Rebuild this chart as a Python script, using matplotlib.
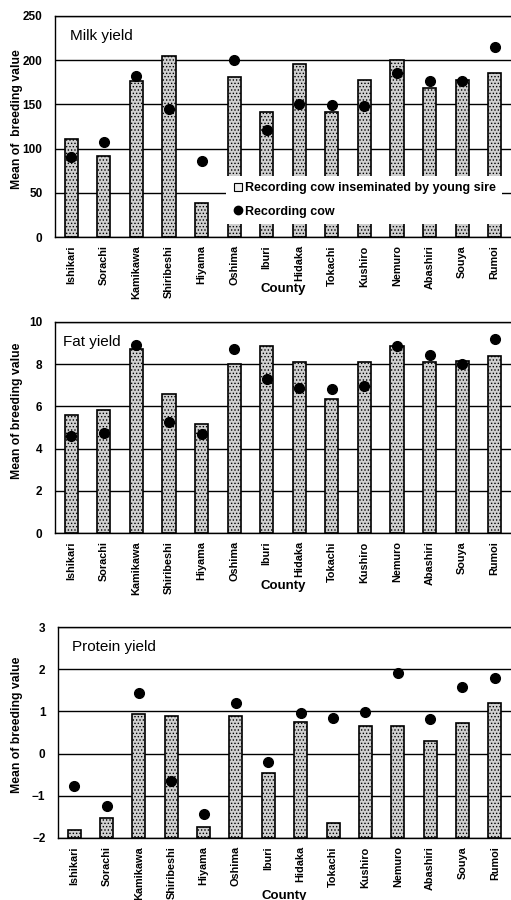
import matplotlib
matplotlib.use("Agg")
import matplotlib.pyplot as plt
from matplotlib.lines import Line2D
import numpy as np

plt.rcParams['font.family'] = ['Liberation Sans', 'DejaVu Sans']
plt.rcParams['hatch.color'] = '#7a7a7a'
plt.rcParams['hatch.linewidth'] = 0.6

counties = ["Ishikari", "Sorachi", "Kamikawa", "Shiribeshi", "Hiyama", "Oshima", "Iburi",
            "Hidaka", "Tokachi", "Kushiro", "Nemuro", "Abashiri", "Souya", "Rumoi"]

milk_young = [111, 92, 176, 205, 38, 181, 141, 196, 141, 178, 200, 169, 178, 186]
milk_cow = [91, 107, 182, 145, 86, 200, 121, 151, 149, 148, 185, 177, 177, 215]

fat_young = [5.57, 5.81, 8.70, 6.60, 5.17, 8.01, 8.88, 8.12, 6.36, 8.09, 8.86, 8.09, 8.16, 8.39]
fat_cow = [4.59, 4.73, 8.91, 5.28, 4.70, 8.70, 7.28, 6.85, 6.84, 6.99, 8.86, 8.43, 8.00, 9.19]

prot_young = [-1.80, -1.53, 0.94, 0.89, -1.75, 0.89, -0.47, 0.74, -1.64, 0.65, 0.66, 0.30, 0.73, 1.20]
prot_cow = [-0.77, -1.25, 1.44, -0.65, -1.43, 1.21, -0.19, 0.97, 0.85, 0.98, 1.91, 0.83, 1.57, 1.78]

panels = [
    dict(young=milk_young, cow=milk_cow, ylim=(0, 250), ticks=[0, 50, 100, 150, 200, 250],
         title="Milk yield", ylabel="Mean of  breeding value",
         rect=[55/511, 1-237/900, 1-55/511, 221/900], title_pos=(0.033, 0.91), xlab_y=-0.21,
         ylab=(-0.07, 0.534)),
    dict(young=fat_young, cow=fat_cow, ylim=(0, 10), ticks=[0, 2, 4, 6, 8, 10],
         title="Fat yield", ylabel="Mean of breeding value",
         rect=[55/511, 1-533/900, 1-55/511, 211/900], title_pos=(0.018, 0.905), xlab_y=-0.225,
         ylab=(-0.07, 0.578)),
    dict(young=prot_young, cow=prot_cow, ylim=(-2, 3), ticks=[-2, -1, 0, 1, 2, 3],
         title="Protein yield", ylabel="Mean of breeding value",
         rect=[58/511, 1-838/900, 1-58/511, 211/900], title_pos=(0.031, 0.905), xlab_y=-0.245,
         ylab=(-0.077, 0.535)),
]

fig = plt.figure(figsize=(5.11, 9.0), dpi=100)
x = np.arange(len(counties))

for i, p in enumerate(panels):
    ax = fig.add_axes(p['rect'])
    base = p['ylim'][0]
    heights = np.array(p['young']) - base
    ax.bar(x, heights, bottom=base, width=0.4, facecolor='#d0d0d0', edgecolor='black',
           linewidth=1.2, hatch='.....', zorder=2)
    ax.plot(x, p['cow'], 'o', color='black', markersize=7, zorder=3)
    ax.set_xlim(-0.5, len(counties) - 0.5)
    ax.set_ylim(*p['ylim'])
    ax.set_yticks(p['ticks'])
    ax.set_yticklabels([str(t).replace('-', '\u2212') for t in p['ticks']],
                       fontsize=8.5, fontweight='bold')
    ax.set_xticks(x)
    ax.set_xticklabels(counties, rotation=90, fontsize=7.8, fontweight='bold')
    ax.tick_params(axis='x', length=0, pad=6)
    ax.tick_params(axis='y', length=0, pad=9)
    ax.yaxis.grid(True, color='black', linewidth=1.0)
    ax.set_axisbelow(True)
    for s in ['left', 'bottom', 'top']:
        ax.spines[s].set_color('black')
        ax.spines[s].set_linewidth(1.0)
    ax.spines['right'].set_visible(False)
    ax.set_ylabel(p['ylabel'], fontsize=8.8, fontweight='bold')
    ax.yaxis.set_label_coords(*p['ylab'])
    ax.set_xlabel("County", fontsize=9.5, fontweight='bold')
    ax.xaxis.set_label_coords(0.5, p['xlab_y'])
    ax.text(p['title_pos'][0], p['title_pos'][1], p['title'], transform=ax.transAxes,
            fontsize=11, va='center', ha='left')
    if i == 0:
        handles = [Line2D([0], [0], marker='s', linestyle='none', markersize=6,
                          markerfacecolor='#ececec', markeredgecolor='black', markeredgewidth=0.8),
                   Line2D([0], [0], marker='o', linestyle='none', markersize=6,
                          markerfacecolor='black', markeredgecolor='black')]
        leg = fig.legend(handles, ["Recording cow inseminated by young sire", "Recording cow"],
                         loc='upper left', bbox_to_anchor=(220/511, 1-170/900),
                         frameon=True, fancybox=False, framealpha=1, facecolor='white',
                         edgecolor='none', handletextpad=0.2,
                         handlelength=0.8, borderpad=0.5, labelspacing=0.9,
                         prop=dict(weight='bold', size=9))
        leg.set_zorder(5)

fig.savefig("out.png", dpi=100)
